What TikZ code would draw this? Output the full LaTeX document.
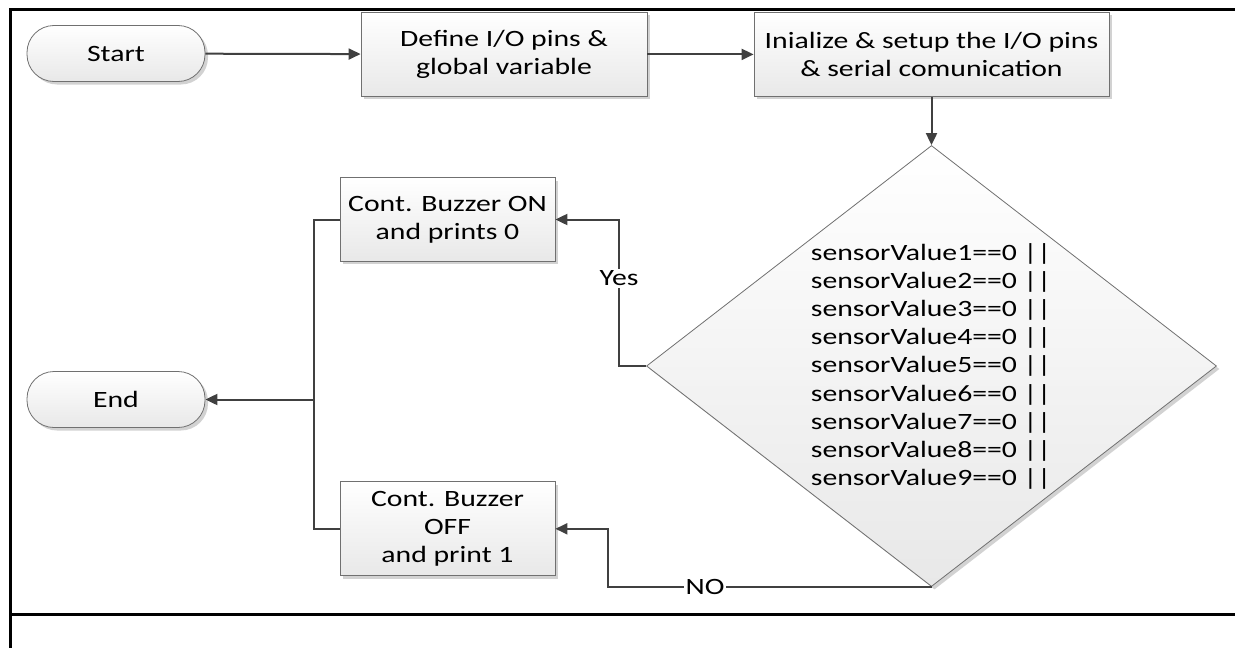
\documentclass[tikz,border=0pt]{standalone}
\usepackage{fontspec}
\setmainfont{Carlito}[FakeStretch=1.27]
\usetikzlibrary{arrows.meta,shapes.geometric,shadows}
\definecolor{linegray}{HTML}{404040}
\definecolor{edgegray}{HTML}{707070}
\tikzset{
  every node/.style={font=\fontsize{11.7}{14}\selectfont},
  box/.style={draw=edgegray,line width=0.4pt,top color=white,bottom color=black!9,
    drop shadow={shadow xshift=1.5pt,shadow yshift=-1.5pt,fill=black!35},
    align=center,inner sep=0pt},
  term/.style={box,rounded corners=13.5pt,minimum width=89pt,minimum height=28pt},
  decision/.style={box,diamond,minimum width=285pt,minimum height=220.5pt},
  conn/.style={draw=linegray,line width=1pt,-{Triangle[length=6pt,width=5.5pt]}},
  wire/.style={draw=linegray,line width=1pt},
  lbl/.style={fill=white,inner sep=1pt}
}
\begin{document}
\begin{tikzpicture}[x=0.5pt,y=-0.5pt]
    \useasboundingbox (0,0) rectangle (1235,648);
    % frame
    \draw [line width=1.5pt] (1235,9) -- (10,9) -- (10,648);
    \draw [line width=1.5pt] (10,614) -- (1235,614);
    % top row
    \node [term] (start) at (116,53.5) {Start};
    \node [box,minimum width=143pt,minimum height=42pt] (define) at (504,54.4) {Define I/O pins \&\\global variable};
    \node [box,minimum width=177.5pt,minimum height=42pt] (init) at (931.5,54.4) {Inialize \& setup the I/O pins\\\& serial comunication};
    % decision
    \node [decision] (cond) at (931.5,366) {};
    \foreach \i in {1,...,9}
    \node (val\i) at (931,{254+28.1*(\i-1)}) {sensorValue\i==0 ||};
    % outcomes
    \node [box,minimum width=107.5pt,minimum height=41.75pt] (on) at (447.5,219.5) {Cont. Buzzer ON\\and prints 0};
    \node [box,minimum width=107.5pt,minimum height=47pt] (off) at (447.5,528.8) {Cont. Buzzer\\OFF\\and print 1};
    \node [term] (end) at (116,399.5) {End};
    \coordinate (bus) at (314,399.5);
    % connectors
    \draw [conn] (start) -- (define);
    \draw [conn] (define) -- (init);
    \draw [conn] (init) -- (cond);
    \draw [conn] (cond.west) -- ++(-27,0) |- node [pos=0.3,lbl] {Yes} (on.east);
    \draw [conn] (cond.south) -- node [pos=0.7,lbl] {NO} ++(-323.5,0) |- (off.east);
    \draw [wire] (on.west) -| (bus) |- (off.west);
    \draw [conn] (bus) -- (end);
  \end{tikzpicture}
\end{document}
